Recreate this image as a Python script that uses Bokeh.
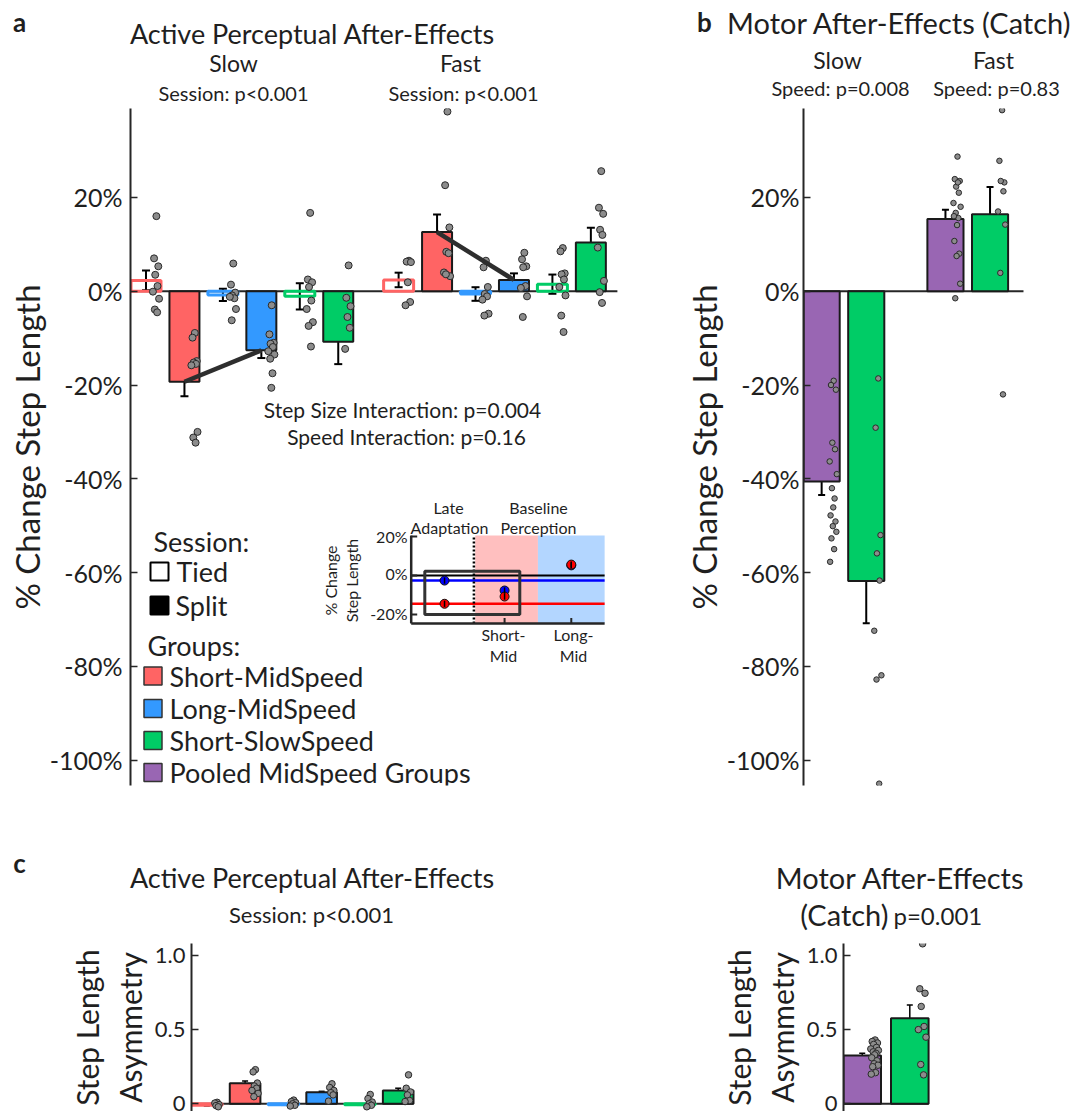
import numpy as np
from bokeh.plotting import figure
from bokeh.layouts import column, row
from bokeh.models import (Range1d, FixedTicker, PrintfTickFormatter, CustomJSTickFormatter,
                          Label, Whisker, TeeHead, ColumnDataSource)
from bokeh.embed import file_html
from bokeh.resources import INLINE

FONT = "Lato"
TXT = "#1f1f1f"
AXC = "#262626"
RED, BLUE, GREEN, PURPLE = "#FF6464", "#3399FF", "#00CC66", "#9966B3"
DOT_FILL, DOT_LINE = "#8c8c8c", "#2a2a2a"

# ---------------- data ----------------
group_names = ["Short-MidSpeed", "Long-MidSpeed", "Short-SlowSpeed", "Pooled MidSpeed Groups"]
group_colors = [RED, BLUE, GREEN, PURPLE]
session_names = ["Tied", "Split"]
speed_names = ["Slow", "Fast"]

# panel a  (order: SM tied, SM split, LM tied, LM split, SS tied, SS split)
a_slow_mean = [2.3, -19.3, -0.8, -12.6, -1.1, -10.8]
a_slow_se = [2.1, 3.1, 1.3, 1.65, 2.8, 4.75]
a_fast_mean = [2.4, 12.6, -0.6, 2.4, 1.5, 10.4]
a_fast_se = [1.55, 3.75, 1.45, 1.4, 2.05, 3.15]
a_slow_pts = [
    [16.0, 7.0, 5.3, 3.5, 1.1, -0.1, -1.6, -3.9, -4.5],
    [-8.9, -9.9, -14.9, -15.2, -15.5, -15.8, -30.0, -31.2, -32.3],
    [5.9, 1.4, -0.3, -0.9, -1.5, -1.2, -3.8, -6.2],
    [-3.0, -9.2, -11.0, -11.2, -11.9, -12.8, -13.5, -14.4, -17.5, -20.6],
    [16.7, 2.5, 1.9, 0.9, -2.0, -3.8, -6.6, -7.4, -11.8],
    [5.5, -1.4, -3.2, -5.5, -7.8, -12.3],
]
a_fast_pts = [
    [6.5, 6.3, 6.2, 1.9, -2.3, -3.0],
    [38.3, 22.6, 13.6, 8.4, 8.1, 4.0, 3.2, 3.6],
    [6.5, 5.1, 0.9, -0.6, -1.1, -1.8, -4.8, -5.2],
    [8.2, 6.8, 5.3, 5.1, 1.1, 0.7, -1.1, -5.5],
    [9.2, 8.5, 3.8, 3.6, 2.5, 0.9, -0.9, -5.2, -8.7],
    [25.6, 17.8, 16.5, 13.1, 12.0, 9.3, 2.2, -0.2, -2.5],
]
a_tick_vals = [-100, -80, -60, -40, -20, 0, 20]

# inset (late adaptation vs baseline perception)
inset_red = [-14.5, -10.8, 5.6]
inset_blue = [-2.6, -7.7, 5.2]
inset_ticks = [-20, 0, 20]

# panel b (Pooled MidSpeed, Short-SlowSpeed) x (Slow, Fast)
b_mean = [-40.6, -61.8, 15.4, 16.4]
b_se = [2.85, 9.0, 1.95, 5.8]
b_pts = [
    [-19.1, -20.0, -21.0, -32.3, -33.7, -36.3, -39.0, -42.0, -44.2, -46.1, -47.8, -49.1, -50.1, -51.3, -52.7, -55.0, -57.7],
    [-18.6, -29.1, -52.0, -55.9, -61.7, -72.4, -81.9, -82.8, -105.0],
    [28.7, 23.9, 23.5, 22.3, 21.0, 18.8, 18.0, 16.7, 15.6, 14.1, 10.7, 8.0, 7.5, 1.6, -1.5, 23.2, 16.0],
    [38.6, 27.8, 23.2, 23.5, 21.3, 17.0, 14.2, 3.9, -22.0],
]

# panel c (step length asymmetry, perceptual)
c_mean = [-0.01, 0.139, -0.006, 0.078, -0.006, 0.09]
c_se = [0.004, 0.015, 0.004, 0.006, 0.004, 0.015]
c_pts = [
    [0.01, 0.005, -0.005, -0.012, -0.02],
    [0.23, 0.215, 0.14, 0.12, 0.105, 0.09, 0.07, 0.048],
    [0.025, 0.015, 0.008, 0.0, -0.01, -0.015],
    [0.135, 0.11, 0.09, 0.075, 0.06, 0.018],
    [0.063, 0.035, 0.012, 0.0, -0.01, -0.02],
    [0.195, 0.105, 0.08, 0.06, 0.022, 0.015],
]
# panel d (step length asymmetry, catch)
d_mean = [0.325, 0.577]
d_se = [0.015, 0.089]
d_pts = [
    [0.43, 0.42, 0.41, 0.40, 0.38, 0.37, 0.36, 0.35, 0.34, 0.33, 0.31, 0.29, 0.27, 0.26, 0.25, 0.21, 0.20],
    [1.078, 0.775, 0.745, 0.656, 0.521, 0.50, 0.449, 0.265, 0.195],
]
asym_ticks = [0, 0.5, 1.0]

JIT = [0.27, 0.21, 0.32, 0.24, 0.30, 0.18, 0.34, 0.23, 0.29, 0.26, 0.20, 0.31, 0.25, 0.33, 0.22, 0.28, 0.19]

# ---------------- pixel helpers (layout only) ----------------
def ax_(px): return 0.597 + (px - 130) / 38.45
def ay(py): return (290.7 - py) / 4.69
def bx(px): return 0.593 + (px - 797.3) / 45.5
def cx(px): return 0.6 + (px - 190.7) / 38.3
def cy(py): return (1103.3 - py) / 148.4
def dx(px): return 0.606 + (px - 843.3) / 47.5
def ix(px): return 0.6 + (px - 410.7) / 66.7
def iy(py): return (575 - py) / 1.95


def lab(p, x, y, text, size, align="center", baseline="middle", bold=False, angle=0,
        xr="default", yr="default", color=TXT):
    p.add_layout(Label(x=x, y=y, text=text, text_font=FONT, text_font_size=f"{size}px",
                       text_align=align, text_baseline=baseline, text_color=color,
                       text_font_style="bold" if bold else "normal", angle=angle,
                       x_range_name=xr, y_range_name=yr))


def mkfig(w, h, xr, yr, bl, bt, bb, yaxis=True):
    p = figure(width=w, height=h, x_range=Range1d(*xr), y_range=Range1d(*yr),
               x_axis_location=None, y_axis_location="left" if yaxis else None,
               toolbar_location=None, output_backend="svg",
               min_border_left=bl, min_border_top=bt, min_border_bottom=bb, min_border_right=0)
    p.grid.visible = False
    p.outline_line_color = None
    return p


def style_y(p, ticks, tick_size, standoff, label, label_size, label_standoff, fmt):
    a = p.yaxis[0]
    a.ticker = FixedTicker(ticks=ticks, minor_ticks=[])
    a.formatter = fmt
    a.major_label_text_font = FONT
    a.major_label_text_font_size = f"{tick_size}px"
    a.major_label_text_color = TXT
    a.major_label_standoff = standoff
    a.major_tick_in = 7
    a.major_tick_out = 0
    a.major_tick_line_color = AXC
    a.major_tick_line_width = 1.5
    a.minor_tick_line_color = None
    a.axis_line_color = AXC
    a.axis_line_width = 2
    a.axis_label = label
    a.axis_label_text_font = FONT
    a.axis_label_text_font_size = f"{label_size}px"
    a.axis_label_text_font_style = "normal"
    a.axis_label_text_color = TXT
    a.axis_label_standoff = label_standoff


def draw_bars(p, xs, means, ses, pts, colors, tied, w, dot_size, cap, ew):
    xs = list(xs)
    ti = [i for i in range(len(xs)) if tied[i]]
    si = [i for i in range(len(xs)) if not tied[i]]
    if ti:
        p.vbar(x=[xs[i] for i in ti], top=[means[i] for i in ti], bottom=0, width=w,
               fill_color=None, line_color=[colors[i] for i in ti], line_width=3)
    if si:
        p.vbar(x=[xs[i] for i in si], top=[means[i] for i in si], bottom=0, width=w,
               fill_color=[colors[i] for i in si], line_color="#1a1a1a", line_width=2)
    ddx, ddy = [], []
    for x, ps in zip(xs, pts):
        for k, v in enumerate(ps):
            ddx.append(x + JIT[k % len(JIT)])
            ddy.append(v)
    p.scatter(ddx, ddy, size=dot_size, fill_color=DOT_FILL, line_color=DOT_LINE, line_width=1)
    src = ColumnDataSource(dict(base=xs, upper=[m + s for m, s in zip(means, ses)],
                                lower=[m - s for m, s in zip(means, ses)]))
    p.add_layout(Whisker(source=src, base="base", upper="upper", lower="lower", dimension="height",
                         line_color="black", line_width=ew,
                         upper_head=TeeHead(size=cap, line_width=ew, line_color="black"),
                         lower_head=TeeHead(size=cap, line_width=ew, line_color="black")))


pct_fmt = PrintfTickFormatter(format="%d%%")

# ================= title strips (text only) =================
pt = mkfig(1084, 108, (0, 1084), (108, 0), 0, 0, 0, yaxis=False)
lab(pt, 19, 21, "a", 26, bold=True)
lab(pt, 312, 33, "Active Perceptual After-Effects", 27)
lab(pt, 233, 62, speed_names[0], 23)
lab(pt, 233, 92, "Session: p<0.001", 20)
lab(pt, 460, 62, speed_names[1], 23)
lab(pt, 463, 92, "Session: p<0.001", 20)
lab(pt, 704, 21, "b", 26, bold=True)
lab(pt, 899, 22, "Motor After-Effects (Catch)", 29)
lab(pt, 837, 59, speed_names[0], 23)
lab(pt, 993, 59, speed_names[1], 23)
lab(pt, 840, 87, "Speed: p=0.008", 20)
lab(pt, 996, 87, "Speed: p=0.83", 20)

pm = mkfig(1084, 135, (0, 1084), (935, 800), 0, 0, 0, yaxis=False)
lab(pm, 19, 862, "c", 26, bold=True)
lab(pm, 312, 877, "Active Perceptual After-Effects", 27)
lab(pm, 311, 914, "Session: p<0.001", 22)
lab(pm, 900, 877, "Motor After-Effects", 29)
lab(pm, 888, 914, "(Catch)", 29, align="right")
lab(pm, 893, 915, "p=0.001", 24, align="left")

# ================= panel a =================
pa = mkfig(680, 692, (ax_(130), ax_(680)), (ay(785), ay(108)), 130, 0, 15)
style_y(pa, a_tick_vals, 25, 8, "% Change Step Length", 33, 0, pct_fmt)

xs_slow = list(np.arange(6) + 1.0)
xs_fast = list(np.arange(6) + 7.57)
bar_cols = [group_colors[i // 2] for i in range(6)]
bar_tied = [i % 2 == 0 for i in range(6)]

pa.line([ax_(130), xs_fast[-1] + 0.69], [0, 0], line_color=AXC, line_width=2)
draw_bars(pa, xs_slow + xs_fast, a_slow_mean + a_fast_mean, a_slow_se + a_fast_se,
          a_slow_pts + a_fast_pts, bar_cols * 2, bar_tied * 2, 0.78, 7, 8, 2)
pa.line([xs_slow[1], xs_slow[3]], [a_slow_mean[1], a_slow_mean[3]], line_color="#2e2e2e", line_width=4.5)
pa.line([xs_fast[1], xs_fast[3]], [a_fast_mean[1], a_fast_mean[3]], line_color="#2e2e2e", line_width=4.5)

lab(pa, ax_(402), ay(409), "Step Size Interaction: p=0.004", 21)
lab(pa, ax_(406), ay(436), "Speed Interaction: p=0.16", 21)

# legend
lab(pa, ax_(153), ay(541), "Session:", 27, align="left")
pa.scatter([ax_(159)], [ay(571)], marker="square", size=18, fill_color="white", line_color="black", line_width=2)
pa.scatter([ax_(159)], [ay(605)], marker="square", size=18, fill_color="black", line_color="black", line_width=2)
lab(pa, ax_(176), ay(571), session_names[0], 27, align="left")
lab(pa, ax_(175), ay(605), session_names[1], 27, align="left")
lab(pa, ax_(147), ay(645), "Groups:", 27, align="left")
leg_y = [ay(675.5), ay(708), ay(740), ay(772)]
pa.scatter([ax_(152.5)] * 4, leg_y, marker="square", size=18, fill_color=group_colors,
           line_color="#333333", line_width=1.5)
for name, yy in zip(group_names, leg_y):
    lab(pa, ax_(169), yy, name, 27, align="left")

# inset
pa.extra_x_ranges = {"ix": Range1d(ix(130), ix(680))}
pa.extra_y_ranges = {"iy": Range1d(iy(785), iy(108))}
I = dict(x_range_name="ix", y_range_name="iy")
ins_x = [1.1, 2.0, 3.0]
ibot, itop, ileft, iright, idiv = -24.6, 20.5, 0.6, 3.5, 1.54
pa.quad(left=[idiv + 0.02], right=[2.5], bottom=[ibot], top=[itop], fill_color="#FFBFBF", line_color=None, **I)
pa.quad(left=[2.5], right=[iright], bottom=[ibot], top=[itop], fill_color="#B3D6FF", line_color=None, **I)
pa.line([ileft, iright], [0, 0], line_color="black", line_width=2, **I)
pa.line([ileft, iright], [inset_blue[0]] * 2, line_color="#0000FF", line_width=2.5, **I)
pa.line([ileft, iright], [inset_red[0]] * 2, line_color="#FF0000", line_width=2.5, **I)
pa.line([idiv, idiv], [ibot, itop], line_color="black", line_width=2.5, line_dash="2 2", **I)
pa.line([ileft, ileft], [ibot, itop], line_color=AXC, line_width=2.5, **I)
pa.line([ileft, iright], [ibot, ibot], line_color=AXC, line_width=2.5, **I)
pa.segment(x0=[ileft] * 3, x1=[ileft + 0.09] * 3, y0=inset_ticks, y1=inset_ticks, line_color=AXC, line_width=2, **I)
pa.segment(x0=ins_x[1:], x1=ins_x[1:], y0=[ibot] * 2, y1=[ibot + 2.8] * 2, line_color=AXC, line_width=2, **I)
pa.quad(left=[0.804], right=[2.228], bottom=[-20.0], top=[2.2], fill_color=None, line_color="#333333", line_width=3, **I)
pa.scatter(ins_x, inset_blue, size=9, fill_color="#0000FF", line_color="#111111", line_width=1, **I)
pa.scatter(ins_x, inset_red, size=9, fill_color="#FF0000", line_color="#111111", line_width=1, **I)
pa.segment(x0=ins_x * 2, x1=ins_x * 2, y0=[v - 1.6 for v in inset_red + inset_blue],
           y1=[v + 1.6 for v in inset_red + inset_blue], line_color="black", line_width=1.5, **I)
for t, ty in zip(["20%", "0%", "-20%"], [536, 573, 613]):
    lab(pa, ix(407), iy(ty), t, 16, align="right", xr="ix", yr="iy")
lab(pa, ix(448), iy(507), "Late", 16, xr="ix", yr="iy")
lab(pa, ix(449), iy(527), "Adaptation", 16, xr="ix", yr="iy")
lab(pa, ix(538), iy(507), "Baseline", 16, xr="ix", yr="iy")
lab(pa, ix(538), iy(527), "Perception", 16, xr="ix", yr="iy")
lab(pa, ix(503), iy(634), "Short-", 16, xr="ix", yr="iy")
lab(pa, ix(503), iy(655), "Mid", 16, xr="ix", yr="iy")
lab(pa, ix(573), iy(634), "Long-", 16, xr="ix", yr="iy")
lab(pa, ix(573), iy(655), "Mid", 16, xr="ix", yr="iy")
lab(pa, ix(330), iy(580), "% Change", 16, angle=np.pi / 2, xr="ix", yr="iy")
lab(pa, ix(351), iy(580), "Step Length", 16, angle=np.pi / 2, xr="ix", yr="iy")

# ================= panel b =================
pb = mkfig(404, 692, (bx(797.3), bx(1084)), (ay(785), ay(108)), 117, 0, 15)
style_y(pb, a_tick_vals, 25, 4, "% Change Step Length", 33, 0, pct_fmt)
xs_b = [1.0, 2.0, 3.776, 4.776]
pb.line([bx(797.3), xs_b[-1] + 0.75], [0, 0], line_color=AXC, line_width=2)
draw_bars(pb, xs_b, b_mean, b_se, b_pts, [PURPLE, GREEN, PURPLE, GREEN], [False] * 4, 0.81, 5.5, 7, 2)

# ================= panel c =================
asym_fmt = CustomJSTickFormatter(code="return tick == 0 ? '0' : tick.toFixed(1);")
pc = mkfig(680, 176, (cx(190.7), cx(680)), (cy(1111), cy(943)), 191, 8, 0)
style_y(pc, asym_ticks, 22, 6, "Step Length\nAsymmetry", 30, 4, asym_fmt)
pc.line([cx(190.7), xs_slow[-1] + 0.4], [0, 0], line_color=AXC, line_width=2)
draw_bars(pc, xs_slow, c_mean, c_se, c_pts, bar_cols, bar_tied, 0.8, 6.5, 6, 1.5)

# ================= panel d =================
pd_ = mkfig(404, 176, (dx(843.3), dx(1084)), (cy(1111), cy(943)), 163, 8, 0)
style_y(pd_, asym_ticks, 22, 6, "Step Length\nAsymmetry", 30, 4, asym_fmt)
xs_d = [1.0, 2.0]
pd_.line([dx(843.3), xs_d[-1] + 0.395], [0, 0], line_color=AXC, line_width=2)
draw_bars(pd_, xs_d, d_mean, d_se, d_pts, [PURPLE, GREEN], [False, False], 0.79, 6.5, 6, 1.5)

layout = column(pt, row(pa, pb), pm, row(pc, pd_))
open("out.html", "w").write(file_html(layout, INLINE))
